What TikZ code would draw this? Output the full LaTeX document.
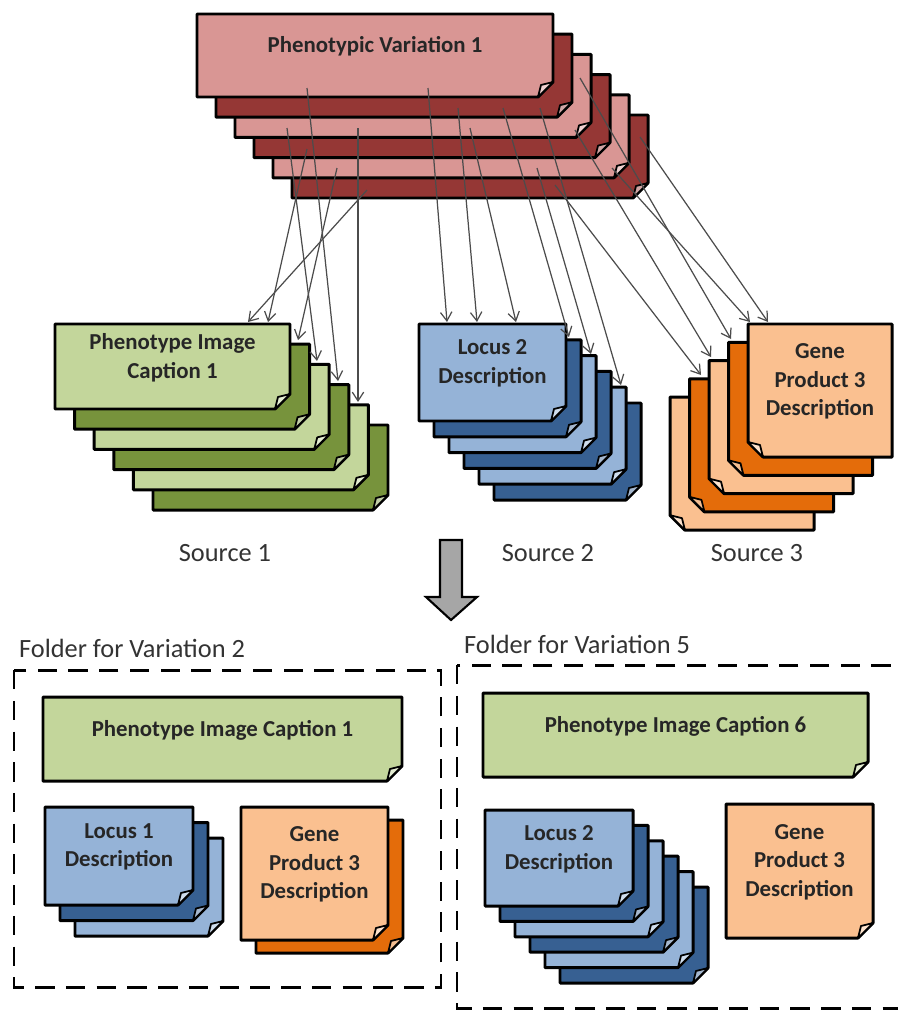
\documentclass[tikz,border=0pt]{standalone}
\usepackage{fontspec}
\setmainfont{Carlito}
\usepackage{tikz}
\usetikzlibrary{arrows.meta}
\usepackage{xcolor}
\definecolor{redL}{HTML}{D99694}
\definecolor{redD}{HTML}{953735}
\definecolor{grnL}{HTML}{C3D69B}
\definecolor{grnD}{HTML}{77933C}
\definecolor{bluL}{HTML}{95B3D7}
\definecolor{bluD}{HTML}{376092}
\definecolor{orgL}{HTML}{FAC090}
\definecolor{orgD}{HTML}{E46C0A}
\newcommand{\fc}{15}
\tikzset{
  sheetline/.style={draw=black,line width=1.7pt,line join=round},
  foldline/.style={draw=black,line width=1pt,line join=round},
  sheettext/.style={align=center,text=black!85,font=\bfseries\fontsize{13}{16.3}\selectfont},
  srctext/.style={text=black!80,font=\fontsize{15}{17}\selectfont},
  folderbox/.style={draw=black,line width=1.7pt,dash pattern=on 11pt off 6.5pt},
  link/.style={draw=black!70,line width=0.7pt,-{Straight Barb[length=5pt,width=6.5pt]}}
}
% sheet with folded corner at the bottom right: name, x, y, w, h, colour, text
\newcommand{\sheet}[7]{%
  \filldraw[sheetline,fill=#6] (#2,#3) -- (#2+#4,#3) -- (#2+#4,#3+#5-\fc) -- (#2+#4-\fc,#3+#5) -- (#2,#3+#5) -- cycle;
  \filldraw[foldline,fill=#6!45!white] (#2+#4,#3+#5-\fc) -- (#2+#4-0.8*\fc,#3+#5-0.8*\fc) -- (#2+#4-\fc,#3+#5) -- cycle;
  \node[sheettext] (#1) at (#2+0.5*#4,#3+0.5*#5-9) {#7};
}
% same, folded corner at the bottom left
\newcommand{\rsheet}[7]{%
  \filldraw[sheetline,fill=#6] (#2,#3) -- (#2+#4,#3) -- (#2+#4,#3+#5) -- (#2+\fc,#3+#5) -- (#2,#3+#5-\fc) -- cycle;
  \filldraw[foldline,fill=#6!45!white] (#2,#3+#5-\fc) -- (#2+0.8*\fc,#3+#5-0.8*\fc) -- (#2+\fc,#3+#5) -- cycle;
  \node[sheettext] (#1) at (#2+0.5*#4,#3+0.5*#5-9) {#7};
}

\begin{document}
\begin{tikzpicture}[x=0.02cm,y=-0.02cm]
\useasboundingbox (0,0) rectangle (897,1011);

% phenotypic variations
\foreach \i/\c in {5/redD,4/redL,3/redD,2/redL,1/redD}
  \sheet{var\i}{197+19*\i}{14+20.2*\i}{356}{83}{\c}{};
\sheet{var0}{197}{14}{356}{83}{redL}{Phenotypic Variation 1};

% source 1
\foreach \i/\c in {5/grnD,4/grnL,3/grnD,2/grnL,1/grnD}
  \sheet{cap\i}{55+19.6*\i}{324+20.2*\i}{235}{85}{\c}{};
\sheet{cap0}{55}{324}{235}{85}{grnL}{Phenotype Image\\Caption 1};

% source 2
\foreach \i/\c in {5/bluD,4/bluL,3/bluD,2/bluL,1/bluD}
  \sheet{loc\i}{419+15*\i}{324+15.8*\i}{147}{97}{\c}{};
\sheet{loc0}{419}{324}{147}{97}{bluL}{Locus 2\\Description};

% source 3
\foreach \i/\c in {4/orgL,3/orgD,2/orgL,1/orgD}
  \rsheet{gene\i}{748-19.5*\i}{324+18.3*\i}{144}{133}{\c}{};
\rsheet{gene0}{748}{324}{144}{133}{orgL}{Gene\\Product 3\\Description};

\node[srctext] (src1) at (225,553) {Source 1};
\node[srctext] (src2) at (548,553) {Source 2};
\node[srctext] (src3) at (757,553) {Source 3};

% links
\foreach \n/\sx/\sy/\tx/\ty in {1/367/190/248/322, 2/307/149/268/322, 3/337/168/298/340,
    4/287/128/317/361, 5/307/88/338/381, 6/358/128/358/402,
    7/428/88/447/322, 8/458/108/477/322, 9/470/128/516/322, 10/503/108/569/337,
    11/537/168/591/354, 12/540/108/621/385,
    13/640/137/768/322, 14/612/168/750/322, 15/580/78/731/339, 16/575/130/711/357, 17/555/185/701/375}{
  \coordinate (s\n) at (\sx,\sy);
  \coordinate (t\n) at (\tx,\ty);
  \draw[link] (s\n) -- (t\n);
}

% big arrow
\filldraw[fill=black!35,draw=black,line width=1.2pt,line join=miter]
  (440,540) -- (462,540) -- (462,597) -- (477,597) -- (451,620) -- (426,597) -- (440,597) -- cycle;

% folder for variation 2
\node[srctext,anchor=west] (fold2) at (13,648) {Folder for Variation 2};
\draw[folderbox] (14,670) rectangle (441,987);
\sheet{fcap2}{43}{697}{359}{84}{grnL}{Phenotype Image Caption 1};
\foreach \i/\c in {2/bluL,1/bluD}
  \sheet{floc2\i}{45+15*\i}{807+15.5*\i}{148}{98}{\c}{};
\sheet{floc20}{45}{807}{148}{98}{bluL}{Locus 1\\Description};
\sheet{fgene21}{256}{820}{147}{133}{orgD}{};
\sheet{fgene20}{241}{807}{147}{133}{orgL}{Gene\\Product 3\\Description};

% folder for variation 5
\node[srctext,anchor=west] (fold5) at (458,644) {Folder for Variation 5};
\draw[folderbox] (457,665) rectangle (915,1008);
\sheet{fcap5}{483}{693}{385}{84}{grnL}{Phenotype Image Caption 6};
\foreach \i/\c in {5/bluD,4/bluL,3/bluD,2/bluL,1/bluD}
  \sheet{floc5\i}{485+15*\i}{810+15.4*\i}{148}{96}{\c}{};
\sheet{floc50}{485}{810}{148}{96}{bluL}{Locus 2\\Description};
\sheet{fgene50}{726}{804}{147}{134}{orgL}{Gene\\Product 3\\Description};
\end{tikzpicture}
\end{document}
